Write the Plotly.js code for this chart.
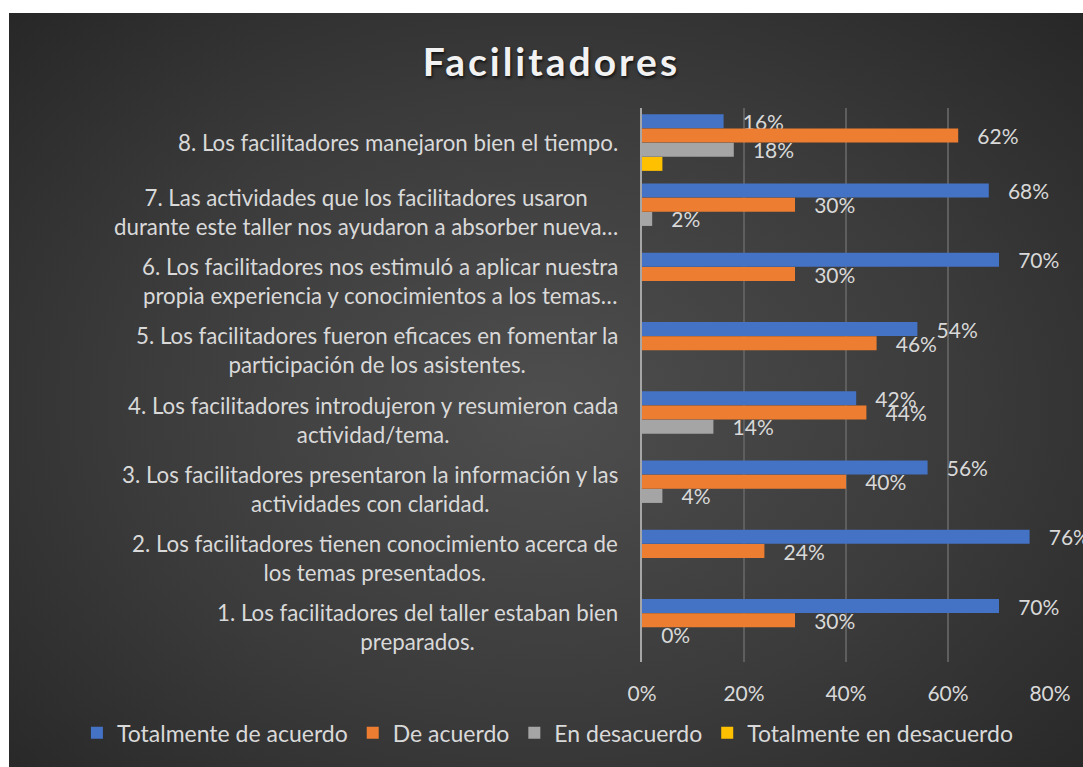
<!DOCTYPE html>
<html>
<head>
<meta charset="utf-8">
<script src="https://cdn.plot.ly/plotly-3.0.1.min.js"></script>
<style>
body{margin:0;background:#fff;}
#plot{position:absolute;left:9px;top:13px;width:1074px;height:754px;
  background:radial-gradient(ellipse 70% 75% at 50% 52%, #4e4e4e 0%, #3b3b3b 55%, #272727 100%);}
.gtitle{letter-spacing:3px;}
</style>
</head>
<body>
<div id="plot"></div>
<script>
// categories bottom -> top as in the picture
var categories = [
  "1. Los facilitadores del taller estaban bien<br>preparados.",
  "2. Los facilitadores tienen conocimiento acerca de<br>los temas presentados.",
  "3. Los facilitadores presentaron la información y las<br>actividades con claridad.",
  "4. Los facilitadores introdujeron y resumieron cada<br>actividad/tema.",
  "5. Los facilitadores fueron eficaces en fomentar la<br>participación de los asistentes.",
  "6. Los facilitadores nos estimuló a aplicar nuestra<br>propia experiencia y conocimientos a los temas…",
  "7. Las actividades que los facilitadores usaron<br>durante este taller nos ayudaron a absorber nueva…",
  "8. Los facilitadores manejaron bien el tiempo."
];
var totalAcuerdo    = [70, 76, 56, 42, 54, 70, 68, 16];
var deAcuerdo       = [30, 24, 40, 44, 46, 30, 30, 62];
var enDesacuerdo    = [0, null, 4, 14, null, null, 2, 18];
var totalDesacuerdo = [null, null, null, null, null, null, null, 4];

var seriesNames = ["Totalmente de acuerdo", "De acuerdo", "En desacuerdo", "Totalmente en desacuerdo"];
var colors = ["#4472c4", "#ed7d31", "#a5a5a5", "#ffc000"];
var font = "Lato, 'Open Sans', sans-serif";
var txtColor = "#d9d9d9";

function bars(vals, i, showText) {
  return {
    type: "bar", orientation: "h",
    x: vals, y: categories,
    name: seriesNames[i],
    marker: {color: colors[i]},
    texttemplate: "\u00a0\u00a0\u00a0%{x}",
    textposition: showText ? "outside" : "none",
    textfont: {family: font, size: 21, color: txtColor},
    constraintext: "none",
    cliponaxis: false,
    hoverinfo: "x+name"
  };
}

var data = [
  bars(totalAcuerdo, 0, true),
  bars(deAcuerdo, 1, true),
  bars(enDesacuerdo, 2, true),
  bars(totalDesacuerdo, 3, false)
];

var annotations = categories.map(function (c) {
  return {
    xref: "paper", x: 0, xanchor: "right", xshift: -22,
    yref: "y", y: c, yanchor: "middle",
    text: '<span style="font-size:22.3px">' + c + "</span>",
    align: "center", showarrow: false,
    font: {family: font, size: 22.5, color: txtColor}
  };
});

var layout = {
  width: 1074, height: 754,
  paper_bgcolor: "rgba(0,0,0,0)",
  plot_bgcolor: "rgba(0,0,0,0)",
  margin: {l: 633, r: 33, t: 95, b: 105},
  title: {
    text: "Facilitadores",
    font: {family: font, size: 39, weight: "bold", color: "#f2f2f2", shadow: "1px 2px 3px rgba(0,0,0,0.7)"},
    x: 0.505, xanchor: "center", y: 0.935, yanchor: "middle"
  },
  barmode: "group",
  bargap: 0.18,
  bargroupgap: 0.02,
  xaxis: {
    range: [0, 80], dtick: 20, ticksuffix: "%",
    showgrid: true, gridcolor: "#5e5e5e", gridwidth: 1.5,
    zeroline: false, ticks: "", ticklabelstandoff: 17,
    tickfont: {family: font, size: 21, color: txtColor}
  },
  yaxis: {
    categoryorder: "array", categoryarray: categories.slice().reverse(),
    autorange: "reversed",
    showticklabels: false, ticks: "",
    showline: true, linecolor: "#a6a6a6", linewidth: 2,
    showgrid: false
  },
  showlegend: true,
  legend: {
    orientation: "h", xref: "paper", yref: "paper",
    x: -1.385, xanchor: "left", y: -0.128, yanchor: "middle",
    font: {family: font, size: 23, color: txtColor},
    bgcolor: "rgba(0,0,0,0)"
  },
  annotations: annotations
};

Plotly.newPlot("plot", data, layout, {displayModeBar: false});
</script>
</body>
</html>
